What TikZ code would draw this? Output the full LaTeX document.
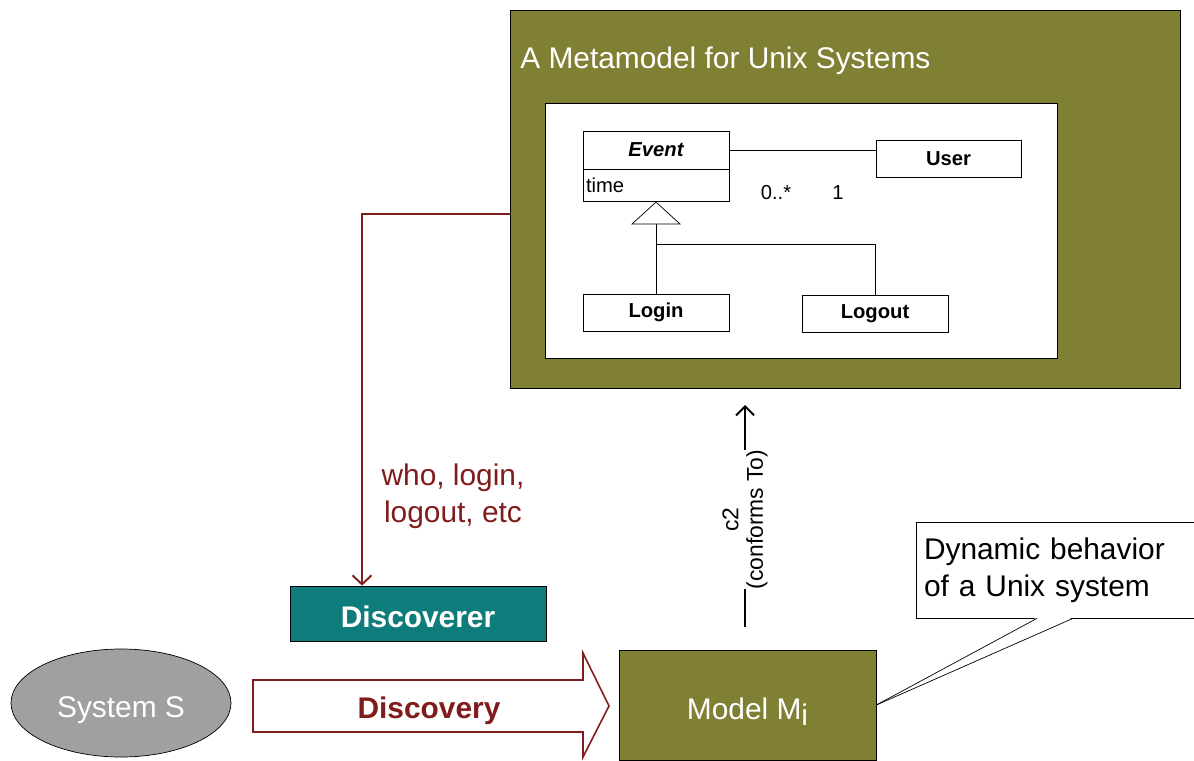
\documentclass[tikz,border=0pt]{standalone}
\usepackage{fontspec}
\setmainfont{Liberation Sans}
\usepackage{xcolor}
\usetikzlibrary{shapes.geometric,arrows.meta,positioning}

\definecolor{olivebox}{RGB}{128,128,52}
\definecolor{tealbox}{RGB}{14,124,122}
\definecolor{darkred}{RGB}{128,28,28}
\definecolor{sysgray}{RGB}{160,160,160}

\begin{document}
\begin{tikzpicture}[
    big/.style={font=\fontsize{17}{21}\selectfont},
    bigbold/.style={font=\fontsize{17}{21}\selectfont\bfseries},
    lowtext/.style={text height=16pt, text depth=0pt},
    umltext/.style={font=\fontsize{11.5}{14}\selectfont},
    umlbox/.style={rectangle, draw, fill=white, minimum width=2.92cm, minimum height=0.74cm, inner sep=0pt, font=\fontsize{11.5}{14}\selectfont\bfseries},
    olive/.style={rectangle, draw, fill=olivebox, inner sep=0pt},
    redarrow/.style={draw=darkred, line width=1.1pt, -{Straight Barb[length=1.8mm, width=3.8mm]}},
    arrow/.style={line width=1.1pt, -{Straight Barb[length=1.8mm, width=3.6mm]}}
]
\useasboundingbox (0,0) rectangle (23.88,15.2);
\clip (0,0) rectangle (23.88,15.2);

% metamodel
\node[olive, minimum width=13.4cm, minimum height=7.56cm] (meta) at (16.9,11.22) {};
\node[big, text=white, anchor=west, inner sep=0pt] (title) at (10.4,13.98) {A Metamodel for Unix Systems};
\node[rectangle, draw, fill=white, minimum width=10.24cm, minimum height=5.1cm] (canvas) at (16.02,10.59) {};

\node[umlbox, minimum height=0.76cm, font=\fontsize{11.5}{14}\selectfont\bfseries\itshape] (event) at (13.12,12.2) {Event};
\node[umlbox, minimum height=0.64cm, below=0pt of event, text width=2.8cm, inner xsep=0.06cm, align=left, font=\fontsize{11.5}{14}\selectfont] (time) {time};
\node[umlbox, minimum width=2.9cm] (user) at (18.97,12.03) {User};
\node[umlbox] (login) at (13.12,8.95) {Login};
\node[umlbox] (logout) at (17.5,8.93) {Logout};
\node[umltext] (many) at (15.52,11.34) {0..*};
\node[umltext] (one) at (16.76,11.34) {1};

\draw (event.east) -- (event.east -| user.west);
\coordinate (gen) at (13.12,10.72);
\coordinate (branch) at (13.12,10.32);
\draw[fill=white] (time.south) -- ([xshift=0.48cm]gen) -- ([xshift=-0.48cm]gen) -- cycle;
\draw (gen) -- (login.north);
\draw (branch) -| (logout.north);

% discovery chain
\node[rectangle, draw, fill=tealbox, minimum width=5.12cm, minimum height=1.1cm, bigbold, lowtext, text=white] (disc) at (8.36,2.93) {Discoverer};
\node[ellipse, draw, fill=sysgray, minimum width=4.4cm, minimum height=2.16cm, big, lowtext, text=white] (sys) at (2.42,1.14) {System S};
\node[olive, minimum width=5.14cm, minimum height=2.2cm, big, lowtext, text=white] (model) at (14.95,1.1) {Model M\raisebox{-0.4ex}{i}};

\draw[darkred, fill=white, line width=0.9pt] (5.06,1.6) -- (11.66,1.6) -- (11.66,2.14) -- (12.18,1.08)
    -- (11.66,0.06) -- (11.66,0.56) -- (5.06,0.56) -- cycle;
\node[bigbold, lowtext, text=darkred] (discovery) at (8.58,1.12) {Discovery};

\coordinate (bend) at (7.24,10.92);
\draw[redarrow] (bend -| meta.west) -- (bend) -- (bend |- disc.north);
\node[big, text=darkred, align=center] (cmds) at (9.06,5.28) {who, login,\\logout, etc};

\coordinate (c2a) at (14.9,2.66);
\coordinate (c2b) at (14.9,7.1);
\draw[arrow] (c2a) -- (c2b) node[pos=0.484, rotate=90, fill=white, inner sep=0pt, align=center, font=\fontsize{13}{14}\selectfont] (conf) {c2\\(conforms To)};

% note
\node[rectangle, draw, fill=white, minimum width=5.9cm, minimum height=1.92cm, text width=5.58cm, inner xsep=0.16cm, align=left, big] (note) at (21.27,3.8) {Dynamic behavior\\of a Unix system};
\fill[white] ([xshift=-0.53cm, yshift=0.02cm]note.south) -- (model.east) -- ([xshift=0.19cm, yshift=0.02cm]note.south) -- cycle;
\draw (model.east) -- ([xshift=-0.53cm]note.south);
\draw (model.east) -- ([xshift=0.19cm]note.south);
\end{tikzpicture}
\end{document}
